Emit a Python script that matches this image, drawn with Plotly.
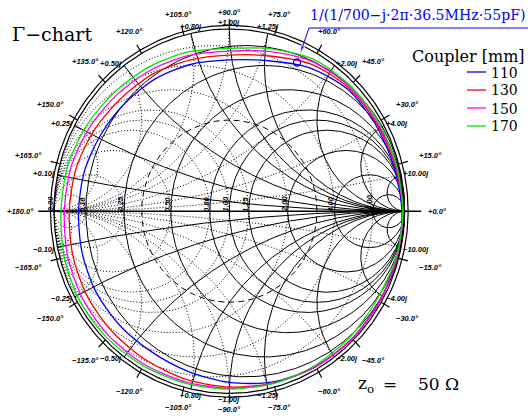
import numpy as np
import plotly.graph_objects as go

# ---- chart values -------------------------------------------------------
# Smith-chart grid values (normalised resistance / reactance)
R_TICKS = [0.1, 0.25, 0.5, 0.8, 1.0, 1.25, 2.0, 4.0, 10.0]
X_TICKS = [0.1, 0.25, 0.5, 0.8, 1.0, 1.25, 2.0, 4.0, 10.0]
REAL_LABELS = ["0.00", "0.10", "0.25", "0.50", "0.80", "1.00", "1.25", "2.00", "4.00", "10.00"]
REAL_LABEL_R = [0.0, 0.1, 0.25, 0.5, 0.8, 1.0, 1.25, 2.0, 4.0, 10.0]
ANGLE_TICKS = list(range(-165, 181, 15))
GAMMA_RING = 0.5

# measured reflection loci: |Gamma| at the listed phase angles (degrees)
PHASE_DEG = [0, 15, 30, 45, 60, 75, 90, 105, 120, 135, 150, 165,
             180, 195, 210, 225, 240, 255, 270, 285, 300, 315, 330, 345]
COUPLERS = ["110", "130", "150", "170"]
MAG_110 = [0.985, 0.97, 0.96, 0.95, 0.91, 0.855, 0.83, 0.835, 0.84, 0.84, 0.845, 0.855,
           0.86, 0.87, 0.88, 0.885, 0.89, 0.91, 0.94, 0.97, 0.985, 0.99, 0.99, 0.99]
MAG_130 = [0.99, 0.978, 0.968, 0.96, 0.932, 0.882, 0.857, 0.86, 0.87, 0.875, 0.89, 0.905,
           0.913, 0.925, 0.935, 0.94, 0.945, 0.955, 0.965, 0.975, 0.985, 0.99, 0.99, 0.99]
MAG_150 = [0.99, 0.982, 0.975, 0.968, 0.948, 0.907, 0.879, 0.885, 0.895, 0.905, 0.92, 0.935,
           0.941, 0.955, 0.965, 0.97, 0.97, 0.97, 0.972, 0.978, 0.985, 0.99, 0.99, 0.99]
MAG_170 = [0.99, 0.986, 0.982, 0.975, 0.962, 0.922, 0.894, 0.905, 0.915, 0.925, 0.94, 0.955,
           0.96, 0.975, 0.985, 0.985, 0.98, 0.977, 0.977, 0.978, 0.978, 0.975, 0.972, 0.985]
COLORS = ["#0000ff", "#ff0000", "#ff00ff", "#00e600"]

# lumped model point: 700 ohm in parallel with 55 pF at 36.5 MHz
R_PAR = 700.0
C_PAR = 55e-12
F_MODEL = 36.5e6
Z0 = 50.0

# ---- page geometry -------------------------------------------------------
W, H = 528, 418
CX, CY = 229.3, 211.2      # chart centre in pixels
RX, RY = 175.3, 182.2      # unit-circle radius in pixels (x, y)

XR = [-CX / RX, (W - CX) / RX]
YR = [-(H - CY) / RY, CY / RY]


def paper(px, py):
    return px / W, 1 - py / H


def to_data(px, py):
    return (px - CX) / RX, (CY - py) / RY


def gam(z):
    return (z - 1) / (z + 1)


def join(segs):
    xs, ys = [], []
    for g in segs:
        xs += list(np.real(g)) + [None]
        ys += list(np.imag(g)) + [None]
    return xs, ys


t = np.linspace(0, 2 * np.pi, 361)
u = np.linspace(0, np.pi / 2 - 1e-4, 400)

# impedance grid (solid) and admittance grid (dotted = mirrored)
r_circles = [r / (1 + r) + np.exp(1j * t) / (1 + r) for r in R_TICKS]
x_arcs = []
for x in X_TICKS:
    for s in (1, -1):
        x_arcs.append(np.append(gam(np.tan(u) + 1j * s * x), 1 + 0j))
imp = r_circles + x_arcs
adm = [-g for g in imp]

fig = go.Figure()

ax_, ay_ = join(adm)
fig.add_trace(go.Scatter(x=ax_, y=ay_, mode="lines", hoverinfo="skip",
                         line=dict(color="black", width=1, dash="1px,2px")))
ix_, iy_ = join(imp)
fig.add_trace(go.Scatter(x=ix_, y=iy_, mode="lines", hoverinfo="skip",
                         line=dict(color="black", width=1)))

# constant |Gamma| circle
ring = GAMMA_RING * np.exp(1j * t)
fig.add_trace(go.Scatter(x=np.real(ring), y=np.imag(ring), mode="lines", hoverinfo="skip",
                         line=dict(color="black", width=1, dash="6px,4px")))

# real axis
fig.add_trace(go.Scatter(x=[-1.09, 1.095], y=[0, 0], mode="lines", hoverinfo="skip",
                         line=dict(color="black", width=1.4)))

# coupler loci
for name, mags, col in zip(COUPLERS, [MAG_110, MAG_130, MAG_150, MAG_170], COLORS):
    th = np.radians(PHASE_DEG + [PHASE_DEG[0]])
    m = np.array(mags + [mags[0]])
    fig.add_trace(go.Scatter(x=m * np.cos(th), y=m * np.sin(th), mode="lines", name=name,
                             line=dict(color=col, width=1.3, shape="spline", smoothing=0.8),
                             hoverinfo="skip"))

# unit circle, outer scale ring and phase ticks
outer = [np.exp(1j * t), 1.02 * np.exp(1j * t)]
for a in ANGLE_TICKS:
    if a in (0, 180):
        continue
    e = np.exp(1j * np.radians(a))
    outer.append(np.array([1.0 * e, 1.055 * e]))
ox, oy = join(outer)
fig.add_trace(go.Scatter(x=ox, y=oy, mode="lines", hoverinfo="skip",
                         line=dict(color="black", width=1.2)))

# model point
w = 2 * np.pi * F_MODEL
z_model = 1 / (1 / R_PAR - 1j * w * C_PAR)
g_model = gam(z_model / Z0)
fig.add_trace(go.Scatter(x=[g_model.real], y=[g_model.imag], mode="markers", hoverinfo="skip",
                         marker=dict(symbol="circle-open", size=7, color="#0000ff",
                                     line=dict(width=1.3))))

# callout leader: underline of the formula, then down to the model point
lx0, ly0 = to_data(528, 28)
lx1, ly1 = to_data(309, 28)
vx, vy = g_model.real - lx1, g_model.imag - ly1
k = 1 - 0.06 / np.hypot(vx, vy)
fig.add_trace(go.Scatter(x=[lx0, lx1, lx1 + k * vx], y=[ly0, ly1, ly1 + k * vy],
                         mode="lines+markers", hoverinfo="skip",
                         line=dict(color="#0000ff", width=1),
                         marker=dict(symbol=["circle", "circle", "arrow"], size=[0, 0, 7],
                                     angleref="previous", color="#0000ff")))

ann = []
small = dict(family="Liberation Sans", size=7.5, color="black", weight="bold", style="italic")

# phase labels
for a in ANGLE_TICKS:
    th = np.radians(a)
    rr = 1.09 + 0.1 * abs(np.cos(th))
    txt = ("+" if a >= 0 else "\u2212") + f"{abs(a):.1f}\u00b0"
    ann.append(dict(x=rr * np.cos(th), y=rr * np.sin(th), text=txt, showarrow=False,
                    xanchor="center", yanchor="middle", font=small))

# reactance labels at the rim
for x in X_TICKS:
    for s in (1, -1):
        g = gam(1j * s * x)
        c = g.real
        if abs(c) < 0.3:
            xa, ya = "center", ("bottom" if s > 0 else "top")
        else:
            xa, ya = ("left" if c > 0 else "right"), "middle"
        txt = ("+" if s > 0 else "\u2212") + f"{x:.2f}j"
        ann.append(dict(x=g.real, y=g.imag, text=txt, showarrow=False, xanchor=xa,
                        yanchor=ya, font=small,
                        yshift=(2 if s > 0 else -2) if ya == "middle" else 0))

# resistance labels along the real axis
for r, lab in zip(REAL_LABEL_R, REAL_LABELS):
    ann.append(dict(x=(r - 1) / (r + 1), y=0, text=lab, showarrow=False, textangle=-90,
                    xanchor="center", yanchor="middle", xshift=-4, yshift=7, font=small))

serif = "DejaVu Serif"
px_, py_ = paper(10, 34)
ann.append(dict(xref="paper", yref="paper", x=px_, y=py_, text="\u0393\u2212chart",
                showarrow=False, xanchor="left", yanchor="middle",
                font=dict(family=serif, size=19, color="black")))
px_, py_ = paper(527, 56)
ann.append(dict(xref="paper", yref="paper", x=px_, y=py_, text="Coupler [mm]",
                showarrow=False, xanchor="right", yanchor="middle",
                font=dict(family=serif, size=16, color="black")))

shapes = []
for i, (name, col) in enumerate(zip(COUPLERS, COLORS)):
    yy = 72 + 18 * i
    x0, y0 = paper(467, yy)
    x1, _ = paper(486, yy)
    shapes.append(dict(type="line", xref="paper", yref="paper", x0=x0, x1=x1, y0=y0, y1=y0,
                       line=dict(color=col, width=1.3)))
    tx, ty = paper(489, yy + 0.5)
    ann.append(dict(xref="paper", yref="paper", x=tx, y=ty, text=name, showarrow=False,
                    xanchor="left", yanchor="middle",
                    font=dict(family=serif, size=14, color="black")))

# model-point formula
tx, ty = paper(527, 15)
ann.append(dict(xref="paper", yref="paper", x=tx, y=ty,
                text="1/(1/700\u2212j\u00b72\u03c0\u00b736.5MHz\u00b755pF)",
                showarrow=False, xanchor="right", yanchor="middle",
                font=dict(family=serif, size=14.1, color="#0000ff")))

# reference impedance
zx, zy = paper(356, 384)
ann.append(dict(xref="paper", yref="paper", x=zx, y=zy, text="z<sub>o</sub>",
                showarrow=False, xanchor="left", yanchor="middle",
                font=dict(family=serif, size=17, color="black")))
ex, ey = paper(389.5, 384)
ann.append(dict(xref="paper", yref="paper", x=ex, y=ey, text="=",
                showarrow=False, xanchor="center", yanchor="middle",
                font=dict(family=serif, size=17, color="black")))
fx, fy = paper(416, 384)
ann.append(dict(xref="paper", yref="paper", x=fx, y=fy, text="50 \u03a9",
                showarrow=False, xanchor="left", yanchor="middle",
                font=dict(family=serif, size=17, color="black")))

fig.update_layout(
    width=W, height=H, margin=dict(l=0, r=0, t=0, b=0),
    paper_bgcolor="white", plot_bgcolor="white", showlegend=False,
    xaxis=dict(range=XR, visible=False, fixedrange=True),
    yaxis=dict(range=YR, visible=False, fixedrange=True),
    annotations=ann, shapes=shapes,
)
fig.write_html("out.html")
